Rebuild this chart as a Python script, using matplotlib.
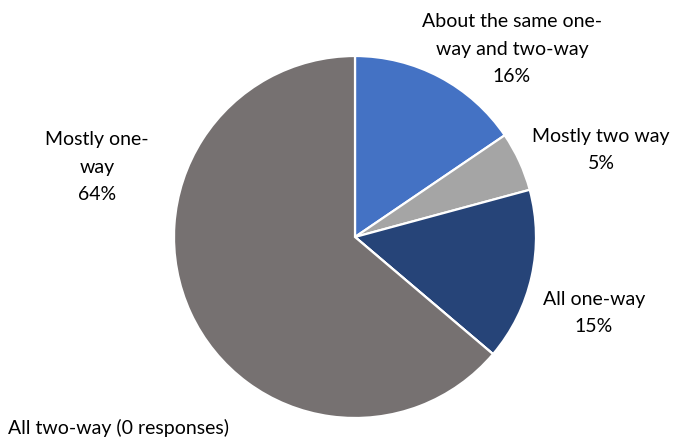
import matplotlib
matplotlib.use("Agg")
import matplotlib.pyplot as plt

# shares, label text as printed on the chart
categories = ["About the same one-\nway and two-way", "Mostly two way", "All one-way",
              "All two-way (0 responses)", "Mostly one-\nway"]
shares = [15.5, 5.3, 15.4, 0.0, 63.8]
pct_labels = ["16%", "5%", "15%", "", "64%"]
colors = ["#4472C4", "#A5A5A5", "#264478", "#636363", "#767171"]

plt.rcParams['font.family'] = ['Lato', 'DejaVu Sans']

fig = plt.figure(figsize=(6.8, 4.4), dpi=100)
ax = fig.add_axes([0, 0, 1, 1])

cx, cy, r = 355, 440 - 237, 181
ax.pie(shares, colors=colors, startangle=90, counterclock=False,
       center=(cx, cy), radius=r,
       wedgeprops=dict(edgecolor="white", linewidth=1.6))

ax.set_xlim(0, 680)
ax.set_ylim(0, 440)
ax.set_aspect("equal")
ax.axis("off")

# label positions (pixel coords, y from top)
label_pos = [(512, 49), (601, 150), (594, 313), None, (97, 167)]
for name, pct, pos in zip(categories, pct_labels, label_pos):
    if pos is None:
        continue
    ax.text(pos[0], 440 - pos[1], name + "\n" + pct, ha="center", va="center",
            fontsize=14, color="#000000", linespacing=1.75)

ax.text(8, 440 - 428, categories[3], ha="left", va="center",
        fontsize=14, color="#000000")

fig.savefig("out.png", dpi=100)
